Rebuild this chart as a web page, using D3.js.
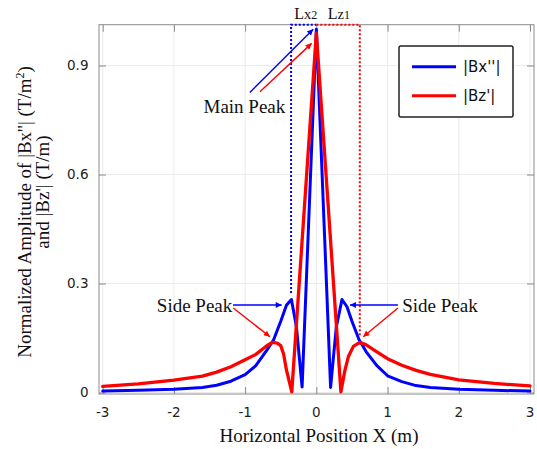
<!DOCTYPE html>
<html>
<head>
<meta charset="utf-8">
<script src="https://cdn.jsdelivr.net/npm/d3@7"></script>
<style>
  html, body { margin: 0; padding: 0; background: #fff; }
  svg { display: block; }
</style>
</head>
<body>
<svg id="chart" width="537" height="449"></svg>
<script>
// Horizontal positions (m) and normalized amplitudes of the two field derivatives
const bxX = [-3, -2.5, -2, -1.6, -1.4, -1.2, -1.0, -0.85, -0.7, -0.6, -0.5, -0.42, -0.35, -0.28, -0.2,
             0, 0.2, 0.28, 0.36, 0.43, 0.5, 0.6, 0.7, 0.85, 1.0, 1.2, 1.4, 1.6, 2, 2.5, 3];
const bxVal = [0.004, 0.006, 0.009, 0.014, 0.020, 0.031, 0.049, 0.074, 0.115, 0.145, 0.196, 0.240, 0.256, 0.181, 0.015,
               1.0, 0.014, 0.180, 0.256, 0.236, 0.196, 0.145, 0.112, 0.074, 0.046, 0.030, 0.019, 0.014, 0.009, 0.006, 0.004];

const bzX = [-3, -2.5, -2, -1.6, -1.4, -1.2, -1.0, -0.85, -0.7, -0.62, -0.55, -0.5, -0.46, -0.42, -0.345,
             0, 0.345, 0.4, 0.45, 0.52, 0.61, 0.7, 0.85, 1.0, 1.2, 1.4, 1.6, 2, 2.5, 3];
const bzVal = [0.017, 0.024, 0.034, 0.045, 0.056, 0.071, 0.090, 0.105, 0.128, 0.138, 0.136, 0.129, 0.106, 0.062, 0.002,
               0.99, 0.002, 0.060, 0.099, 0.127, 0.138, 0.131, 0.112, 0.093, 0.075, 0.061, 0.050, 0.035, 0.025, 0.018];

// Axis ticks
const xTicks = [-3, -2, -1, 0, 1, 2, 3];
const yTicks = [0, 0.3, 0.6, 0.9];
const yTickLabels = ["0", "0.3", "0.6", "0.9"];

// Series names and colours
const seriesNames = ["|Bx''|", "|Bz'|"];
const seriesColors = ["#0000ff", "#ff0000"];

// Interval markers (x extent of main lobe half-widths and where they stop)
const lx2Range = [-0.355, 0];
const lx2Bottom = 0.274;
const lz1Range = [0, 0.61];
const lz1Bottom = 0.1535;

const svg = d3.select("#chart");
const frame = { left: 99, right: 534, top: 24.7, bottom: 394 };

const x = d3.scaleLinear().domain([-3, 3]).range([102.7, 530]);
const y = d3.scaleLinear().domain([0, 1]).range([392.5, 29.2]);

const gridColor = "#ebebeb";
const axisColor = "#8a8a8a";
const tickLen = 7;

// Gridlines
svg.append("g").selectAll("line.gx").data(xTicks).join("line")
  .attr("x1", d => x(d)).attr("x2", d => x(d))
  .attr("y1", frame.top).attr("y2", frame.bottom)
  .attr("stroke", gridColor).attr("stroke-width", 1);
svg.append("g").selectAll("line.gy").data(yTicks).join("line")
  .attr("y1", d => y(d)).attr("y2", d => y(d))
  .attr("x1", frame.left).attr("x2", frame.right)
  .attr("stroke", gridColor).attr("stroke-width", 1);

// Axes with inward ticks on all four sides
const axB = d3.axisBottom(x).tickValues(xTicks).tickSize(-tickLen).tickFormat("");
const axT = d3.axisTop(x).tickValues(xTicks).tickSize(-tickLen).tickFormat("");
const axL = d3.axisLeft(y).tickValues(yTicks).tickSize(-tickLen).tickFormat("");
const axR = d3.axisRight(y).tickValues(yTicks).tickSize(-tickLen).tickFormat("");
function styleAxis(g) {
  g.select(".domain").remove();
  g.selectAll(".tick line").attr("stroke", axisColor).attr("stroke-width", 1);
}
svg.append("g").attr("transform", `translate(0,${frame.bottom})`).call(axB).call(styleAxis);
svg.append("g").attr("transform", `translate(0,${frame.top})`).call(axT).call(styleAxis);
svg.append("g").attr("transform", `translate(${frame.left},0)`).call(axL).call(styleAxis);
svg.append("g").attr("transform", `translate(${frame.right},0)`).call(axR).call(styleAxis);

// Plot frame
svg.append("rect")
  .attr("x", frame.left).attr("y", frame.top)
  .attr("width", frame.right - frame.left).attr("height", frame.bottom - frame.top)
  .attr("fill", "none").attr("stroke", axisColor).attr("stroke-width", 1);

// Tick labels
const tickFont = "'DejaVu Sans', Verdana, sans-serif";
svg.append("g").selectAll("text").data(xTicks).join("text")
  .attr("x", d => x(d)).attr("y", 416.5)
  .attr("text-anchor", "middle")
  .attr("font-family", tickFont).attr("font-size", 13.5).attr("fill", "#222")
  .text(d => d);
svg.append("g").selectAll("text").data(yTicks).join("text")
  .attr("x", 88.5).attr("y", d => y(d))
  .attr("dy", "0.36em")
  .attr("text-anchor", "end")
  .attr("font-family", tickFont).attr("font-size", 13.5).attr("fill", "#222")
  .text((d, i) => yTickLabels[i]);

// Axis titles
const serif = "'Liberation Serif', 'Times New Roman', serif";
svg.append("text")
  .attr("x", 319).attr("y", 441.5)
  .attr("text-anchor", "middle")
  .attr("font-family", serif).attr("font-size", 19).attr("fill", "#111")
  .text("Horizontal Position X (m)");

const yTitle1 = svg.append("text")
  .attr("transform", "translate(30.5,212) rotate(-90)")
  .attr("text-anchor", "middle")
  .attr("font-family", serif).attr("font-size", 19).attr("fill", "#111");
yTitle1.append("tspan").text("Normalized Amplitude of |Bx''| (T/m");
yTitle1.append("tspan").attr("font-size", 12).attr("dy", -7).text("2");
yTitle1.append("tspan").attr("dy", 7).text(")");

svg.append("text")
  .attr("transform", "translate(48.5,192) rotate(-90)")
  .attr("text-anchor", "middle")
  .attr("font-family", serif).attr("font-size", 19).attr("fill", "#111")
  .text("and |Bz'| (T/m)");

// Dotted interval markers
const dotted = svg.append("g").attr("fill", "none").attr("stroke-width", 2).attr("stroke-dasharray", "2,2");
dotted.append("path")
  .attr("d", d3.line()([[x(lx2Range[0]), y(lx2Bottom)], [x(lx2Range[0]), frame.top], [x(lx2Range[1]), frame.top]]))
  .attr("stroke", seriesColors[0]);
dotted.append("path")
  .attr("d", d3.line()([[x(lz1Range[0]), frame.top], [x(lz1Range[1]), frame.top], [x(lz1Range[1]), y(lz1Bottom)]]))
  .attr("stroke", seriesColors[1]);

// Curves
const line = d3.line().x(d => x(d[0])).y(d => y(d[1]));
const bxData = bxX.map((v, i) => [v, bxVal[i]]);
const bzData = bzX.map((v, i) => [v, bzVal[i]]);
svg.append("path").datum(bxData).attr("d", line)
  .attr("fill", "none").attr("stroke", seriesColors[0]).attr("stroke-width", 3)
  .attr("stroke-linejoin", "round").attr("stroke-linecap", "round");
svg.append("path").datum(bzData).attr("d", line)
  .attr("fill", "none").attr("stroke", seriesColors[1]).attr("stroke-width", 3.3)
  .attr("stroke-linejoin", "round").attr("stroke-linecap", "round");

// Interval labels
function intervalLabel(cx, main, sub1, sub2) {
  const t = svg.append("text")
    .attr("x", x(cx)).attr("y", 18.5)
    .attr("text-anchor", "middle")
    .attr("font-family", serif).attr("fill", "#111");
  t.append("tspan").attr("font-size", 16).text(main);
  t.append("tspan").attr("font-size", 14.5).text(sub1);
  t.append("tspan").attr("font-size", 12).text(sub2);
}
intervalLabel(-0.15, "L", "x", "2");
intervalLabel(0.315, "L", "z", "1");

// Annotation arrows
const defs = svg.append("defs");
seriesColors.forEach((c, i) => {
  defs.append("marker")
    .attr("id", "arrow" + i)
    .attr("viewBox", "0 0 10 10")
    .attr("refX", 10).attr("refY", 5)
    .attr("markerWidth", 7.5).attr("markerHeight", 6)
    .attr("markerUnits", "userSpaceOnUse")
    .attr("orient", "auto")
    .append("path").attr("d", "M0,0L10,5L0,10Z").attr("fill", c);
});

const arrows = [
  { from: [-0.933, 0.826], to: [-0.044, 1.0], s: 0 },
  { from: [-0.792, 0.828], to: [-0.066, 0.961], s: 1 },
  { from: [-1.171, 0.2408], to: [-0.487, 0.2408], s: 0 },
  { from: [-1.167, 0.2326], to: [-0.652, 0.1536], s: 1 },
  { from: [1.146, 0.2408], to: [0.472, 0.2408], s: 0 },
  { from: [1.146, 0.2326], to: [0.659, 0.1536], s: 1 }
];
svg.append("g").selectAll("line").data(arrows).join("line")
  .attr("x1", d => x(d.from[0])).attr("y1", d => y(d.from[1]))
  .attr("x2", d => x(d.to[0])).attr("y2", d => y(d.to[1]))
  .attr("stroke", d => seriesColors[d.s]).attr("stroke-width", 1.4)
  .attr("marker-end", d => `url(#arrow${d.s})`);

// Annotation texts
const notes = [
  { text: "Main Peak", at: [-1.01, 0.769] },
  { text: "Side Peak", at: [-1.71, 0.2216] },
  { text: "Side Peak", at: [1.735, 0.2216] }
];
svg.append("g").selectAll("text").data(notes).join("text")
  .attr("x", d => x(d.at[0])).attr("y", d => y(d.at[1]))
  .attr("text-anchor", "middle")
  .attr("font-family", serif).attr("font-size", 19).attr("fill", "#111")
  .text(d => d.text);

// Legend
const legend = svg.append("g");
legend.append("rect")
  .attr("x", 399).attr("y", 46).attr("width", 114).attr("height", 71)
  .attr("rx", 2).attr("fill", "#fff").attr("stroke", "#222").attr("stroke-width", 1.5);
seriesNames.forEach((name, i) => {
  const ly = 66.7 + i * 29;
  legend.append("line")
    .attr("x1", 412).attr("x2", 456).attr("y1", ly).attr("y2", ly)
    .attr("stroke", seriesColors[i]).attr("stroke-width", 3);
  legend.append("text")
    .attr("x", 463).attr("y", ly).attr("dy", "0.36em")
    .attr("font-family", tickFont).attr("font-size", 15).attr("fill", "#111")
    .text(name);
});
</script>
</body>
</html>
